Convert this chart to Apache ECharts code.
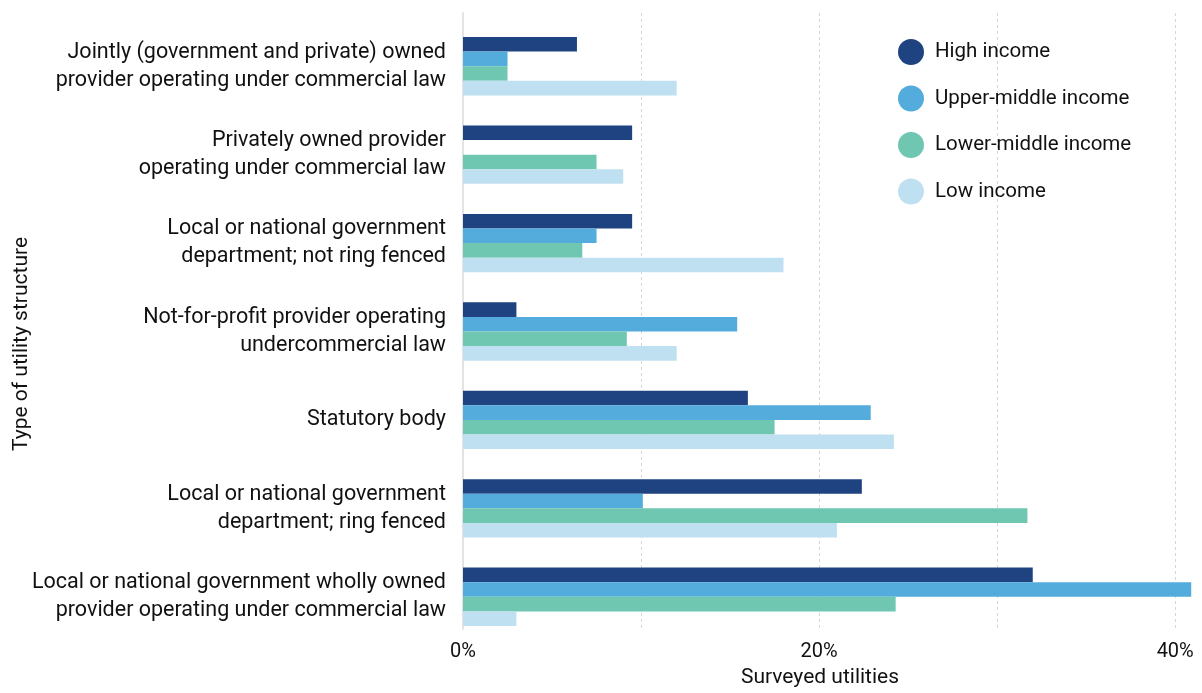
<!DOCTYPE html>
<html>
<head>
<meta charset="utf-8">
<title>Utility structure by income group</title>
<script src="https://cdn.jsdelivr.net/npm/echarts@6/dist/echarts.min.js"></script>
<style>
  html, body { margin: 0; padding: 0; background: #ffffff; }
  #chart { width: 1202px; height: 693px; }
</style>
</head>
<body>
<div id="chart"></div>
<script>
// Utility structure types (top to bottom)
const categories = [
  'Jointly (government and private) owned\nprovider operating under commercial law',
  'Privately owned provider\noperating under commercial law',
  'Local or national government\ndepartment; not ring fenced',
  'Not-for-profit provider operating\nundercommercial law',
  'Statutory body',
  'Local or national government\ndepartment; ring fenced',
  'Local or national government wholly owned\nprovider operating under commercial law'
];

// Share of surveyed utilities (%) by income group
const highIncome        = [6.4, 9.5, 9.5, 3.0, 16.0, 22.4, 32.0];
const upperMiddleIncome = [2.5, 0, 7.5, 15.4, 22.9, 10.1, 40.9];
const lowerMiddleIncome = [2.5, 7.5, 6.7, 9.2, 17.5, 31.7, 24.3];
const lowIncome         = [12.0, 9.0, 18.0, 12.0, 24.2, 21.0, 3.0];

const seriesNames = ['High income', 'Upper-middle income', 'Lower-middle income', 'Low income'];
const seriesColors = ['#1f4280', '#53acdc', '#6fc7b1', '#bfe0f1'];
const seriesData = [highIncome, upperMiddleIncome, lowerMiddleIncome, lowIncome];

const xTicks = [0, 20, 40];
const xMax = 41;

const FONT = 'Roboto, "Noto Sans", sans-serif';

const chart = echarts.init(document.getElementById('chart'), null, { renderer: 'canvas' });

const option = {
  backgroundColor: '#ffffff',
  animation: false,
  textStyle: { fontFamily: FONT },
  grid: [
    // bars
    { left: 463, right: 9, top: 22, bottom: 52, containLabel: false },
    // frame: gridlines, axis line and tick labels
    { left: 463, right: 9, top: 13, bottom: 61, containLabel: false }
  ],
  legend: {
    orient: 'vertical',
    left: 893,
    top: 34,
    icon: 'circle',
    itemWidth: 26,
    itemHeight: 26,
    itemGap: 20.5,
    data: seriesNames,
    textStyle: {
      fontFamily: FONT,
      fontSize: 20.5,
      color: '#111111',
      padding: [0, 0, 0, 6]
    }
  },
  xAxis: [
    {
      gridIndex: 0,
      type: 'value',
      min: 0,
      max: xMax,
      show: false
    },
    {
      gridIndex: 1,
      type: 'value',
      min: 0,
      max: xMax,
      interval: 10,
      axisLine: { show: false },
      axisTick: { show: false },
      splitLine: {
        show: true,
        showMinLine: false,
        showMaxLine: false,
        lineStyle: { color: '#d6d6d6', type: [3, 3], width: 1 }
      },
      axisLabel: {
        margin: 13,
        fontFamily: FONT,
        fontSize: 20,
        color: '#111111',
        showMaxLabel: false,
        formatter: v => (xTicks.indexOf(v) >= 0 ? v + '%' : '')
      },
      name: 'Surveyed utilities',
      nameLocation: 'middle',
      nameGap: 38,
      nameTextStyle: {
        fontFamily: FONT,
        fontSize: 21,
        color: '#111111',
        padding: [0, 16, 0, 0]
      }
    }
  ],
  yAxis: [
    {
      gridIndex: 0,
      type: 'category',
      inverse: true,
      data: categories,
      axisLine: { show: false },
      axisTick: { show: false },
      splitLine: { show: false },
      axisLabel: {
        margin: 17,
        fontFamily: FONT,
        fontSize: 21.5,
        lineHeight: 28,
        color: '#111111',
        align: 'right'
      }
    },
    {
      gridIndex: 1,
      type: 'value',
      min: 0,
      max: 1,
      axisLine: { show: true, lineStyle: { color: '#e3e3e3', width: 2 } },
      axisTick: { show: false },
      axisLabel: { show: false },
      splitLine: { show: false }
    }
  ],
  graphic: [
    {
      type: 'text',
      x: 22,
      y: 344,
      rotation: Math.PI / 2,
      style: {
        text: 'Type of utility structure',
        fontFamily: FONT,
        fontSize: 21,
        fill: '#111111',
        align: 'center',
        verticalAlign: 'middle'
      }
    }
  ],
  series: seriesNames.map((name, i) => ({
    name: name,
    type: 'bar',
    xAxisIndex: 0,
    yAxisIndex: 0,
    data: seriesData[i],
    barGap: '0%',
    barCategoryGap: '34%',
    itemStyle: { color: seriesColors[i] },
    z: 3
  }))
};

chart.setOption(option);
</script>
</body>
</html>
